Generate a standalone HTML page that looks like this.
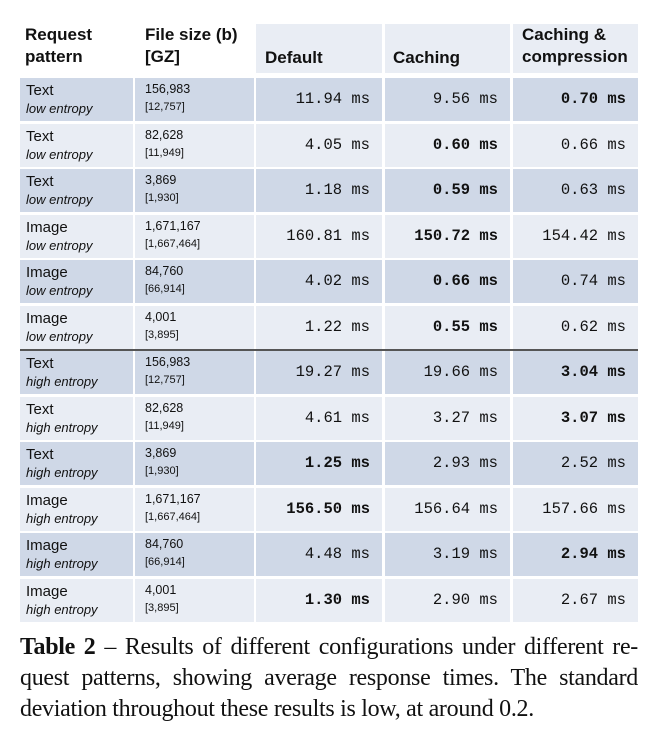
<!DOCTYPE html>
<html><head><meta charset="utf-8"><style>
body{margin:0;width:656px;height:729px;background:#fff;position:relative;overflow:hidden;font-family:"Liberation Sans",sans-serif;}
.c{position:absolute;box-sizing:border-box;}
.h{font-weight:bold;font-size:17px;line-height:22px;color:#111;}
.n{font-family:"Liberation Mono",monospace;font-size:15.5px;text-align:right;padding-right:12px;color:#111;}
.b{font-weight:bold;}
.p{font-size:15px;line-height:18px;padding-left:6px;padding-top:4px;color:#111;}
.p i{font-size:13px;}
.s{font-size:12.5px;line-height:17px;padding-left:10px;padding-top:3px;color:#111;}
.s span{font-size:11px;}
.cl{position:absolute;left:20px;width:618px;font-family:"Liberation Serif",serif;font-size:24px;letter-spacing:-0.3px;line-height:31.5px;color:#111;white-space:nowrap;}
.j{text-align:justify;text-align-last:justify;white-space:normal;}
</style></head><body>
<div class="c h" style="left:25px;top:24px;">Request<br>pattern</div>
<div class="c h" style="left:145px;top:24px;">File size (b)<br>[GZ]</div>
<div class="c" style="left:256px;top:24px;width:126px;height:49px;background:#e9edf4"></div>
<div class="c" style="left:385px;top:24px;width:125px;height:49px;background:#e9edf4"></div>
<div class="c" style="left:513px;top:24px;width:125px;height:49px;background:#e9edf4"></div>
<div class="c h" style="left:265px;top:47px;">Default</div>
<div class="c h" style="left:393px;top:47px;">Caching</div>
<div class="c h" style="left:522px;top:24px;">Caching &amp;<br>compression</div>
<div id="rows"></div>
<div class="c" style="left:20px;top:349px;width:618px;height:2px;background:#555"></div>
<div class="cl j" style="top:632px;"><b>Table 2</b> – Results of different configurations under different re-</div>
<div class="cl j" style="top:663px;">quest patterns, showing average response times. The standard</div>
<div class="cl" style="top:694px;">deviation throughout these results is low, at around 0.2.</div>
<script>
var d=[
["Text","low entropy","156,983","12,757","11.94","9.56","0.70",5],
["Text","low entropy","82,628","11,949","4.05","0.60","0.66",4],
["Text","low entropy","3,869","1,930","1.18","0.59","0.63",4],
["Image","low entropy","1,671,167","1,667,464","160.81","150.72","154.42",4],
["Image","low entropy","84,760","66,914","4.02","0.66","0.74",4],
["Image","low entropy","4,001","3,895","1.22","0.55","0.62",4],
["Text","high entropy","156,983","12,757","19.27","19.66","3.04",5],
["Text","high entropy","82,628","11,949","4.61","3.27","3.07",5],
["Text","high entropy","3,869","1,930","1.25","2.93","2.52",3],
["Image","high entropy","1,671,167","1,667,464","156.50","156.64","157.66",3],
["Image","high entropy","84,760","66,914","4.48","3.19","2.94",5],
["Image","high entropy","4,001","3,895","1.30","2.90","2.67",3]];
var cols=[[20,113],[135,119],[256,126],[385,125],[513,125]];
var h="";
d.forEach(function(r,i){
 var t=Math.round(78+i*45.5),bg=i%2?"#e9edf4":"#cfd8e7";
 cols.forEach(function(c,j){
  var st='left:'+c[0]+'px;top:'+t+'px;width:'+c[1]+'px;height:43px;background:'+bg+';';
  if(j==0)h+='<div class="c p" style="'+st+'">'+r[0]+'<br><i>'+r[1]+'</i></div>';
  else if(j==1)h+='<div class="c s" style="'+st+'">'+r[2]+'<br><span>['+r[3]+']</span></div>';
  else h+='<div class="c n'+(r[7]==j+1?' b':'')+'" style="'+st+'line-height:43px;">'+r[j+2]+' ms</div>';
 });
});
document.getElementById("rows").innerHTML=h;
</script>
</body></html>
